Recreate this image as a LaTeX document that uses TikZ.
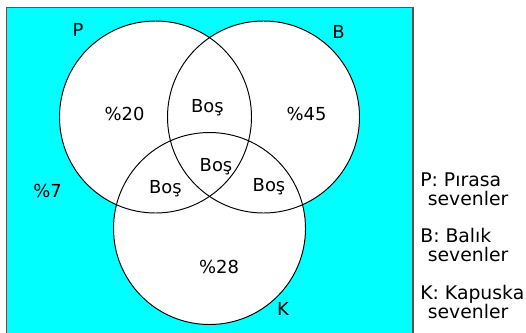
\documentclass[tikz,border=0pt]{standalone}
\usepackage{fontspec}
\setmainfont{DejaVu Sans}
\definecolor{zemin}{RGB}{0,255,255}
\definecolor{kenar}{RGB}{85,85,85}
\tikzset{
  kume/.style={draw=black,line width=0.55pt},
  yazi/.style={anchor=base,inner sep=0pt},
  aciklama/.style={anchor=base west,inner sep=0pt,font=\fontsize{10.7}{12}\selectfont}
}

\begin{document}
\begin{tikzpicture}[font=\fontsize{10.2}{12}\selectfont]
        \useasboundingbox (0,0) rectangle (10.52,-6.64);
        \clip (0,0) rectangle (10.52,-6.64);

        % evrensel kume
        \draw[kenar,line width=1.1pt,fill=zemin] (0.13,-0.15) rectangle (8.26,-7);

        % kumeler
        \fill[white] (3.11,-2.34) circle (1.92);
        \fill[white] (5.27,-2.34) circle (1.92);
        \fill[white] (4.19,-4.57) circle (1.92);
        \draw[kume] (3.11,-2.34) circle (1.92);
        \draw[kume] (5.27,-2.34) circle (1.92);
        \draw[kume] (4.19,-4.57) circle (1.92);

        \node[yazi] (adP) at (1.56,-0.73) {P};
        \node[yazi] (adB) at (6.77,-0.77) {B};
        \node[yazi] (adK) at (5.66,-6.30) {K};

        \node[yazi] (sadeceP) at (2.49,-2.41) {\%20};
        \node[yazi] (sadeceB) at (6.13,-2.41) {\%45};
        \node[yazi] (sadeceK) at (4.38,-5.47) {\%28};
        \node[yazi] (hicbiri) at (0.95,-3.95) {\%7};
        \node[yazi] (PB) at (4.15,-2.25) {Boş};
        \node[yazi] (PBK) at (4.32,-3.43) {Boş};
        \node[yazi] (PK) at (3.31,-3.87) {Boş};
        \node[yazi] (BK) at (5.38,-3.83) {Boş};

        % aciklamalar
        \node[aciklama] (acP) at (8.40,-3.72) {P: Pırasa};
        \node[aciklama] (acP2) at (8.55,-4.10) {sevenler};
        \node[aciklama] (acB) at (8.40,-4.84) {B: Balık};
        \node[aciklama] (acB2) at (8.55,-5.22) {sevenler};
        \node[aciklama] (acK) at (8.40,-5.98) {K: Kapuska};
        \node[aciklama] (acK2) at (8.55,-6.36) {sevenler};
    \end{tikzpicture}
\end{document}
